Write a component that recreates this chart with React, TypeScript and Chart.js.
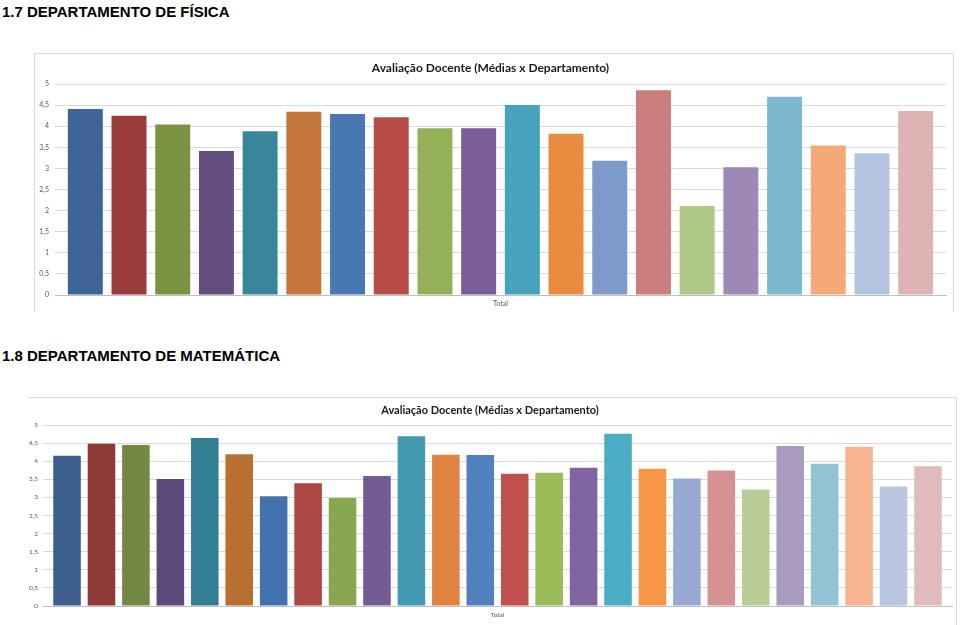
import React, { useEffect, useRef } from "react";
import { Chart, registerables } from "chart.js";

Chart.register(...registerables);

const categories = ["Total"];
const chartTitle = "Avaliação Docente (Médias x Departamento)";
const heading1 = "1.7 DEPARTAMENTO DE FÍSICA";
const heading2 = "1.8 DEPARTAMENTO DE MATEMÁTICA";

const fisicaValues = [
  4.41, 4.25, 4.04, 3.41, 3.88, 4.34, 4.29, 4.21, 3.95, 3.95,
  4.5, 3.82, 3.18, 4.85, 2.11, 3.03, 4.7, 3.54, 3.36, 4.36,
];
const fisicaColors = [
  "#3F6498", "#9A3C3B", "#7A9441", "#634C7E", "#39869B",
  "#C4753A", "#4977B1", "#B74B48", "#95B157", "#7A5D99",
  "#47A3BD", "#E88C3F", "#7E9ACB", "#CA7E7D", "#AFC787",
  "#9D88B6", "#7CB9CF", "#F6A978", "#B3C4E0", "#DEB3B4",
];

const matematicaValues = [
  4.15, 4.48, 4.45, 3.51, 4.64, 4.19, 3.03, 3.39, 2.98, 3.59,
  4.69, 4.18, 4.17, 3.65, 3.68, 3.82, 4.76, 3.79, 3.52, 3.74,
  3.22, 4.42, 3.93, 4.4, 3.3, 3.86,
];
const matematicaColors = [
  "#3C5F8C", "#8E3A37", "#728944", "#5E4A7A", "#327F93",
  "#B96E32", "#4272AB", "#AD4744", "#89A651", "#735B94",
  "#4399B2", "#DE843E", "#4F81BD", "#C0504D", "#9BBB59",
  "#8064A2", "#4BACC6", "#F79646", "#95A9D3", "#D59293",
  "#B9CD96", "#A99BBE", "#92C3D4", "#F8B490", "#B8C6E0",
  "#DFBBBC",
];

const yMin = 0;
const yMax = 5;
const yStep = 0.5;

type Geo = {
  width: number;
  height: number;
  areaLeft: number;
  areaRightPad: number;
  areaTop: number;
  areaBottom: number;
  titleCenter: number;
  titleSize: number;
  tickSize: number;
  yPad: number;
  xPad: number;
  catPct: number;
};

function BarChart({ values, colors, geo }: { values: number[]; colors: string[]; geo: Geo }) {
  const ref = useRef<HTMLCanvasElement | null>(null);
  useEffect(() => {
    if (!ref.current) return;
    const lh = geo.titleSize * 1.2;
    const padTop = geo.titleCenter - lh / 2;
    const padBottom = geo.areaTop - padTop - lh;
    const chart = new Chart(ref.current, {
      type: "bar",
      data: {
        labels: categories,
        datasets: values.map((v, i) => ({
          label: `Série ${i + 1}`,
          data: [v],
          backgroundColor: colors[i],
          borderWidth: 0,
          barPercentage: 0.8,
          categoryPercentage: geo.catPct,
        })),
      },
      options: {
        responsive: false,
        devicePixelRatio: 1,
        animation: false,
        layout: { padding: { left: 0, right: geo.areaRightPad, top: 0, bottom: 0 } },
        plugins: {
          legend: { display: false },
          tooltip: { enabled: false },
          title: {
            display: true,
            text: chartTitle,
            color: "#1a1a1a",
            font: { family: "Lato", weight: "bold", size: geo.titleSize, lineHeight: 1.2 },
            padding: { top: padTop, bottom: padBottom },
          },
        },
        scales: {
          x: {
            grid: { display: false, drawTicks: false },
            border: { display: true, color: "#BFBFBF", width: 1 },
            ticks: {
              color: "#595959",
              padding: geo.xPad,
              font: { family: "Lato", size: geo.tickSize },
            },
            afterFit: (s: any) => {
              s.height = geo.height - geo.areaBottom;
            },
          },
          y: {
            min: yMin,
            max: yMax,
            grid: { color: "#D9D9D9", drawTicks: false, lineWidth: 1 },
            border: { display: false },
            ticks: {
              stepSize: yStep,
              color: "#595959",
              padding: geo.yPad,
              font: { family: "Lato", size: geo.tickSize },
              callback: (v: any) => String(v).replace(".", ","),
            },
            afterFit: (s: any) => {
              s.width = geo.areaLeft;
            },
          },
        },
      },
    });
    return () => chart.destroy();
  }, [values, colors, geo]);
  return <canvas ref={ref} width={geo.width} height={geo.height} style={{ display: "block" }} />;
}

const geo1: Geo = {
  width: 918,
  height: 258,
  areaLeft: 20,
  areaRightPad: 7,
  areaTop: 30,
  areaBottom: 241,
  titleCenter: 14.3,
  titleSize: 12,
  tickSize: 7,
  yPad: 6,
  xPad: 5,
  catPct: 0.981,
};

const geo2: Geo = {
  width: 928,
  height: 227,
  areaLeft: 15,
  areaRightPad: 4,
  areaTop: 27,
  areaBottom: 208,
  titleCenter: 12.7,
  titleSize: 11,
  tickSize: 6.5,
  yPad: 5,
  xPad: 5,
  catPct: 0.985,
};

const headingStyle: React.CSSProperties = {
  position: "absolute",
  left: 2,
  margin: 0,
  fontFamily: "'Liberation Sans', Arial, sans-serif",
  fontWeight: "bold",
  fontSize: 15,
  color: "#000",
  whiteSpace: "nowrap",
};

export default function App() {
  return (
    <div style={{ position: "absolute", left: 0, top: 0, width: 960, height: 625, background: "#fff", overflow: "hidden" }}>
      <div style={{ ...headingStyle, top: 3 }}>{heading1}</div>
      <div
        style={{
          position: "absolute",
          left: 34,
          top: 53,
          width: 918,
          height: 258,
          borderTop: "1px solid #D9D9D9",
          borderLeft: "1px solid #D9D9D9",
          borderRight: "1px solid #D9D9D9",
        }}
      >
        <BarChart values={fisicaValues} colors={fisicaColors} geo={geo1} />
      </div>
      <div style={{ ...headingStyle, top: 347 }}>{heading2}</div>
      <div
        style={{
          position: "absolute",
          left: 28,
          top: 397,
          width: 928,
          height: 240,
          borderTop: "1px solid #D9D9D9",
          borderRight: "1px solid #D9D9D9",
        }}
      >
        <BarChart values={matematicaValues} colors={matematicaColors} geo={geo2} />
      </div>
    </div>
  );
}
